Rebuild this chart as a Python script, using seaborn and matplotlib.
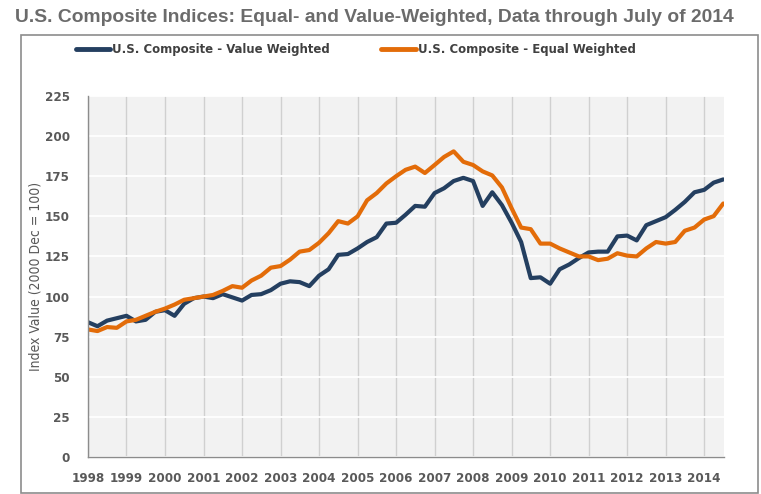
import numpy as np
import pandas as pd
import seaborn as sns
import matplotlib.pyplot as plt
import matplotlib.dates as mdates
from matplotlib import font_manager
from matplotlib.font_manager import FontProperties
from matplotlib.lines import Line2D
from matplotlib.patches import Rectangle

# quarterly readings, Jan 1998 .. Jul 2014
dates = pd.date_range("1998-01-01", "2014-07-01", freq="QS")

value_weighted = [
    84, 81.5, 85, 86.5,
    88, 84.5, 85.5, 90.5,
    91.5, 88, 95.5, 99,
    100, 99, 101.5, 99.5,
    97.5, 101, 101.5, 104,
    108, 109.5, 109, 106.5,
    113, 117, 126, 126.5,
    130, 134, 137, 145.5,
    146, 151, 156.5, 156,
    164.5, 167.5, 172, 174,
    172, 156.5, 165, 157,
    146, 134, 111.5, 112,
    108, 117, 120, 124,
    127.5, 128, 128, 137.5,
    138, 135, 144.5, 147,
    149.5, 154, 159, 165,
    166.5, 171, 173,
]

equal_weighted = [
    79.5, 78.5, 81, 80.5,
    84.5, 85.5, 88, 90.5,
    92.5, 95, 98, 99,
    100, 101, 103.5, 106.5,
    105.5, 110, 113, 118,
    119, 123, 128, 129,
    133.5, 139.5, 147, 145.5,
    150, 160, 164.5, 170.5,
    175, 179, 181, 177,
    182, 187, 190.5, 184,
    182, 178, 175.5, 168,
    155, 143, 142, 133,
    133, 130, 127.5, 125,
    125, 122.7, 123.6, 127,
    125.5, 125, 130, 134,
    133, 134, 141, 143,
    148, 150.1, 158,
]

series_names = ["U.S. Composite - Value Weighted", "U.S. Composite - Equal Weighted"]
colors = ["#243F60", "#E36C09"]

df = pd.DataFrame({"date": dates, series_names[0]: value_weighted, series_names[1]: equal_weighted})
long_df = df.melt(id_vars="date", var_name="series", value_name="index")


def cond_font(weight, size):
    # look for the condensed DejaVu face, fall back to the plain one
    for f in font_manager.fontManager.ttflist:
        if f.name == "DejaVu Sans" and f.stretch == "condensed" and \
                (f.weight == 700) == (weight == "bold") and f.style == "normal":
            return FontProperties(fname=f.fname, size=size)
    return FontProperties(family="DejaVu Sans", weight=weight, size=size * 0.9)


tick_fp = cond_font("bold", 9.5)
legend_fp = cond_font("bold", 9.4)
label_fp = cond_font("normal", 10)

sns.set_theme(style="white")
plt.rcParams["font.family"] = ["Liberation Sans", "DejaVu Sans"]

fig = plt.figure(figsize=(7.61, 4.94), dpi=100)
ax = fig.add_axes([88 / 761, 1 - 457 / 494, (724 - 88) / 761, (457 - 96) / 494])
ax.set_facecolor("#F2F2F2")

sns.lineplot(data=long_df, x="date", y="index", hue="series", palette=colors,
             linewidth=3, ax=ax, legend=False)

ax.set_ylim(0, 225)
ax.set_yticks(np.arange(0, 226, 25))
ax.set_xlim(pd.Timestamp("1998-01-01"), pd.Timestamp("2014-07-08"))
ax.xaxis.set_major_locator(mdates.YearLocator())
ax.xaxis.set_major_formatter(mdates.DateFormatter("%Y"))

ax.grid(axis="y", color="white", linewidth=1.3)
ax.grid(axis="x", color="#D0D0D0", linewidth=1)
ax.set_axisbelow(True)

for s in ["top", "right"]:
    ax.spines[s].set_visible(False)
for s in ["left", "bottom"]:
    ax.spines[s].set_color("#8C8C8C")
    ax.spines[s].set_linewidth(1)

ax.tick_params(axis="both", which="major", length=5, width=1, color="#8C8C8C",
               labelcolor="#595959", direction="out")
ax.tick_params(axis="x", pad=6)
ax.tick_params(axis="y", pad=8)
for lab in ax.get_xticklabels() + ax.get_yticklabels():
    lab.set_fontproperties(tick_fp)

ax.set_xlabel("")
ax.set_ylabel("Index Value (2000 Dec = 100)", fontproperties=label_fp, color="#595959", labelpad=2)

# chart frame
fig.patches.append(Rectangle((21 / 761, 1 / 494), (758 - 21) / 761, (493 - 35) / 494,
                             transform=fig.transFigure, fill=False,
                             edgecolor="#8C8C8C", linewidth=1.2))

fig.text(15 / 761, 1 - 17 / 494, "U.S. Composite Indices: Equal- and Value-Weighted, Data through July of 2014",
         fontsize=13.9, fontweight="bold", color="#6B6B6B", va="center")

handles = [Line2D([0], [0], color=c, linewidth=3.5) for c in colors]
leg = fig.legend(handles, series_names, loc="center left", bbox_to_anchor=(64 / 761, 1 - 50 / 494),
                 ncol=2, frameon=False, handlelength=2.65, handletextpad=0.15, columnspacing=3.9,
                 prop=legend_fp)
for t in leg.get_texts():
    t.set_color("#404040")

fig.savefig("out.png", dpi=100)
